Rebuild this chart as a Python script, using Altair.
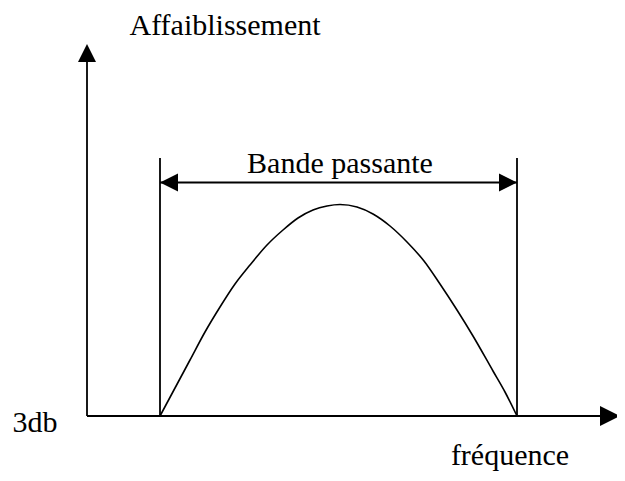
import altair as alt
import pandas as pd

# Schematic coordinates (arbitrary units, origin at the axes corner)
seg_name = ["axe_y", "axe_x", "f1", "f2", "bande"]
seg_x = [0, 0, 73, 430, 73]
seg_y = [0, 0, 0, 0, 233.5]
seg_x2 = [0, 520, 73, 430, 430]
seg_y2 = [365, 0, 258, 258, 233.5]

curve_f = [73, 88, 103, 118, 133, 148, 163, 180, 196, 211, 226, 240, 253, 270, 286, 303, 320, 337, 353, 370, 386, 406, 418, 430]
curve_a = [0, 28, 56, 84, 109, 132, 151, 171, 186, 198, 206, 210, 211.5, 209, 202, 190, 174, 155, 132, 106, 80, 45, 24, 0]

UP = "M0,0L-1,2L1,2Z"
LEFT = "M0,0L2,-1L2,1Z"
RIGHT = "M0,0L-2,-1L-2,1Z"
head_x = [0, 533, 73, 430]
head_y = [372, 0, 233.5, 233.5]
head_shape = [UP, RIGHT, LEFT, RIGHT]
head_size = [324, 400, 324, 324]

labels = ["Affaiblissement", "Bande passante", "3db", "fréquence"]
label_x = [138, 253, -52, 423]
label_y = [381, 243, -16, -49]

xs = alt.Scale(domain=[-79, 530])
ys = alt.Scale(domain=[-57, 408])

segs = pd.DataFrame({"name": seg_name, "x": seg_x, "y": seg_y, "x2": seg_x2, "y2": seg_y2})
curve = pd.DataFrame({"f": curve_f, "a": curve_a})
heads = pd.DataFrame({"x": head_x, "y": head_y, "shape": head_shape, "size": head_size})
texts = pd.DataFrame({"label": labels, "x": label_x, "y": label_y})

rules = alt.Chart(segs).mark_rule(color="black", strokeWidth=1.8, clip=False).encode(
    x=alt.X("x:Q", scale=xs, axis=None),
    y=alt.Y("y:Q", scale=ys, axis=None),
    x2="x2:Q",
    y2="y2:Q",
)

line = alt.Chart(curve).mark_line(color="black", strokeWidth=1.6, interpolate="monotone").encode(
    x=alt.X("f:Q", scale=xs, axis=None),
    y=alt.Y("a:Q", scale=ys, axis=None),
)

arrows = alt.Chart(heads).mark_point(filled=True, color="black", opacity=1, strokeWidth=0, clip=False).encode(
    x=alt.X("x:Q", scale=xs, axis=None),
    y=alt.Y("y:Q", scale=ys, axis=None),
    shape=alt.Shape("shape:N", scale=None),
    size=alt.Size("size:Q", scale=None),
)

txt = alt.Chart(texts).mark_text(
    font="Liberation Serif", fontSize=30, color="black", align="center", baseline="alphabetic"
).encode(
    x=alt.X("x:Q", scale=xs, axis=None),
    y=alt.Y("y:Q", scale=ys, axis=None),
    text="label:N",
)

chart = alt.layer(rules, line, arrows, txt).properties(
    width=609, height=465, autosize=alt.AutoSizeParams(type="none"), padding=0
).configure_view(stroke=None)

chart.save("out.html", embed_options={"renderer": "svg", "actions": False})
